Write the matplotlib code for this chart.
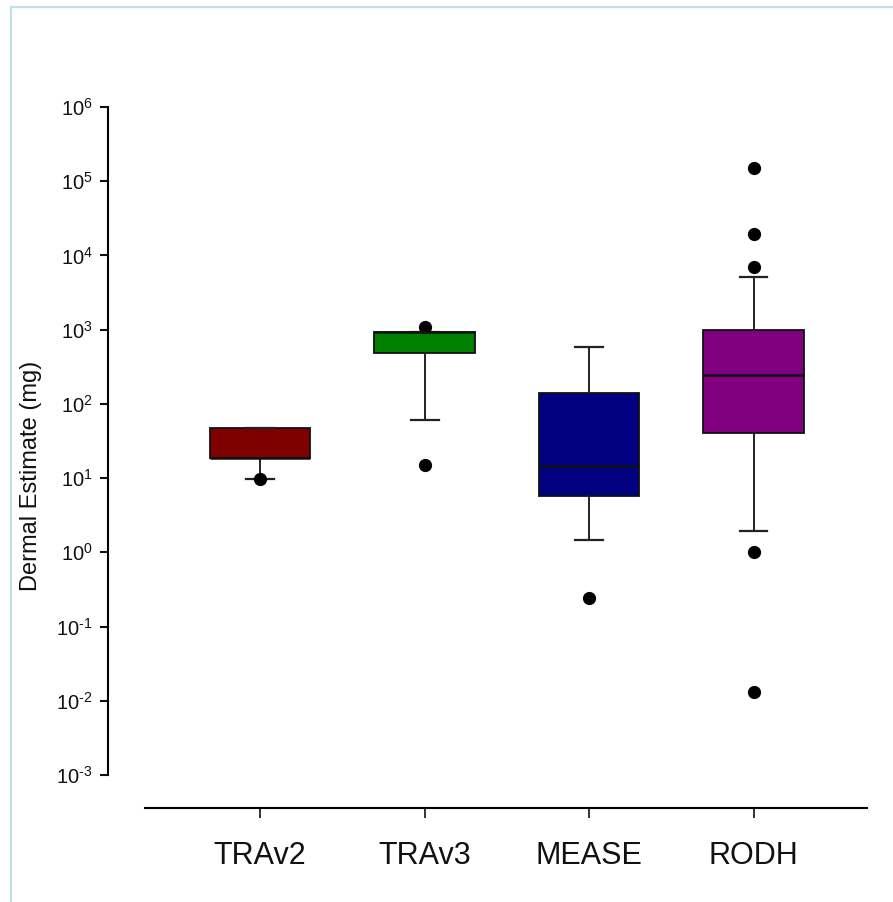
"""Box plot: dermal estimate per model (log scale)."""

import math

import matplotlib
import matplotlib.lines as mlines
import matplotlib.ticker as mticker
from matplotlib import font_manager

matplotlib.use("Agg")
import matplotlib.pyplot as plt


# Box statistics per model (mg).
categories = ["TRAv2", "TRAv3", "MEASE", "RODH"]
q1 = [18.8, 480, 5.8, 41]
med = [18.8, 937, 14.6, 244]
q3 = [47.6, 937, 141, 988]
whislo = [9.6, 60, 1.46, 1.95]
whishi = [47.6, 937, 577, 5160]
fliers = [
    [9.8],
    [15, 1075],
    [0.244],
    [149000, 19250, 7040, 1.02, 0.0132],
]
box_colors = ["#800000", "#008000", "#000080", "#800080"]
y_ticks = [1e-3, 1e-2, 1e-1, 1e0, 1e1, 1e2, 1e3, 1e4, 1e5, 1e6]

names = {f.name for f in font_manager.fontManager.ttflist}
FONT = "Liberation Sans Narrow" if "Liberation Sans Narrow" in names else "Liberation Sans"
plt.rcParams["font.family"] = [FONT, "DejaVu Sans"]
plt.rcParams["mathtext.fontset"] = "custom"
plt.rcParams["mathtext.rm"] = FONT
plt.rcParams["mathtext.it"] = FONT
plt.rcParams["mathtext.bf"] = FONT


def pow10_label(value, _pos):
    # \text keeps the plain hyphen of the original instead of a math minus
    exp = int(round(math.log10(value)))
    return r"$\mathrm{10}^{\text{%d}}$" % exp


def main():
    fig = plt.figure(figsize=(8.93, 9.02), dpi=100)
    ax = fig.add_axes([145 / 893, 1 - 775 / 902, 722 / 893, 668 / 902])

    stats = []
    for i, name in enumerate(categories):
        stats.append(
            dict(
                label=name,
                q1=q1[i],
                med=med[i],
                q3=q3[i],
                whislo=whislo[i],
                whishi=whishi[i],
                fliers=fliers[i],
            )
        )

    positions = list(range(1, len(categories) + 1))
    res = ax.bxp(
        stats,
        positions=positions,
        widths=0.61,
        capwidths=0.17,
        patch_artist=True,
        boxprops=dict(edgecolor="#111111", linewidth=1.3),
        whiskerprops=dict(color="#222222", linewidth=1.4),
        capprops=dict(color="#222222", linewidth=1.6),
        medianprops=dict(color="#111111", linewidth=1.8),
        flierprops=dict(
            marker="o",
            markerfacecolor="black",
            markeredgecolor="black",
            markersize=8.5,
            linestyle="none",
        ),
    )
    for patch, color in zip(res["boxes"], box_colors):
        patch.set_facecolor(color)

    ax.set_yscale("log")
    ax.set_ylim(1e-3, 1e6)
    ax.set_xlim(0.30, 4.69)
    ax.yaxis.set_major_locator(mticker.FixedLocator(y_ticks))
    ax.yaxis.set_minor_locator(mticker.NullLocator())
    ax.yaxis.set_major_formatter(mticker.FuncFormatter(pow10_label))

    ax.set_xticks(positions)
    ax.set_xticklabels(categories)

    for side in ("top", "right"):
        ax.spines[side].set_visible(False)
    ax.spines["left"].set_position(("outward", 26.6))
    ax.spines["bottom"].set_position(("outward", 23.8))
    ax.spines["left"].set_linewidth(1.5)
    ax.spines["bottom"].set_linewidth(1.5)

    ax.tick_params(axis="y", length=6, width=1.5, pad=5, labelsize=14.5, colors="#111111")
    ax.tick_params(axis="x", length=7, width=1.2, pad=17, labelsize=22, colors="#111111")

    fig.text(
        31 / 893,
        1 - 476 / 902,
        "Dermal Estimate (mg)",
        rotation=90,
        ha="center",
        va="center",
        fontsize=17,
        color="#111111",
    )

    # light frame around the picture
    frame = "#bfe1e5"
    fig.add_artist(mlines.Line2D([10.5 / 893, 10.5 / 893], [0, 1 - 6.5 / 902], color=frame, linewidth=1.6))
    fig.add_artist(mlines.Line2D([10.5 / 893, 1], [1 - 6.5 / 902, 1 - 6.5 / 902], color=frame, linewidth=1.6))

    fig.savefig("out.png", dpi=100, facecolor="white")
    plt.close(fig)


if __name__ == "__main__":
    main()
